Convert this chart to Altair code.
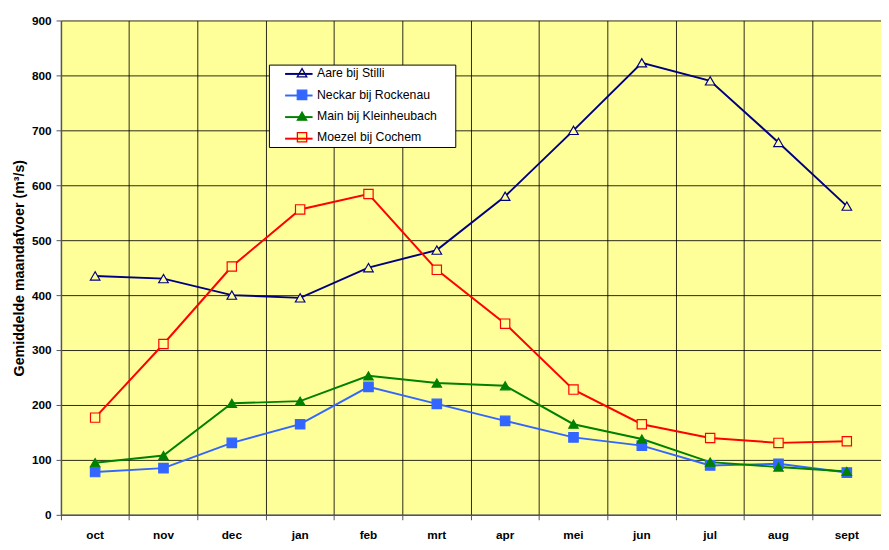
import altair as alt
import pandas as pd

months = ["oct", "nov", "dec", "jan", "feb", "mrt", "apr", "mei", "jun", "jul", "aug", "sept"]
series_names = ["Aare bij Stilli", "Neckar bij Rockenau", "Main bij Kleinheubach", "Moezel bij Cochem"]
aare = [435, 430, 400, 395, 450, 482, 580, 700, 823, 790, 678, 562]
neckar = [78, 85, 131, 165, 233, 202, 171, 141, 126, 90, 93, 77]
main_ = [95, 108, 203, 207, 253, 240, 235, 165, 138, 96, 87, 79]
moezel = [177, 311, 452, 556, 584, 446, 348, 228, 165, 140, 131, 134]

colors = ["#000080", "#3366FF", "#008000", "#FF0000"]
fills = ["#FFFF99", "#3366FF", "#008000", "#FFFF99"]
shapes = ["triangle-up", "square", "triangle-up", "square"]
sizes = [95, 90, 105, 105]

rows = []
for name, vals in zip(series_names, [aare, neckar, main_, moezel]):
    for m, v in zip(months, vals):
        rows.append({"month": m, "value": v, "series": name, "marker": name})
df = pd.DataFrame(rows)

W, H = 836, 504

tri = "M0,-0.9L0.78,0.4L-0.78,0.4Z"
sq = "M-0.7,-0.7L0.7,-0.7L0.7,0.7L-0.7,0.7Z"
legend_paths = [tri, sq, tri, sq]
legend_fills = ["white", "#3366FF", "#008000", "white"]


def expr(values):
    s = "'" + values[-1] + "'"
    for n, v in reversed(list(zip(series_names[:-1], values[:-1]))):
        s = "datum.value === '" + n + "' ? '" + v + "' : (" + s + ")"
    return s


x_enc = alt.X(
    "month:N",
    sort=months,
    scale=alt.Scale(type="band", paddingInner=0, paddingOuter=0),
    axis=alt.Axis(title=None, bandPosition=0, labelAngle=0,
                  grid=True, tickSize=5, labelPadding=10),
)
y_enc = alt.Y(
    "value:Q",
    scale=alt.Scale(domain=[0, 900], nice=False),
    axis=alt.Axis(values=list(range(0, 1000, 100)), title="Gemiddelde maandafvoer (m³/s)",
                  tickSize=5, labelPadding=5, titlePadding=5, grid=True),
)

# legend with frame, labels and markers
lines = alt.Chart(df).mark_line(strokeWidth=2).encode(
    x=x_enc,
    y=y_enc,
    color=alt.Color(
        "series:N",
        scale=alt.Scale(domain=series_names, range=colors),
        legend=alt.Legend(
            title="xx",
            titleOrient="right",
            titleFontSize=12,
            titleColor="rgba(0,0,0,0)",
            titlePadding=3,
            orient="none",
            legendX=212,
            legendY=45,
            fillColor="white",
            strokeColor="black",
            padding=2,
            labelFont="Liberation Sans",
            labelFontSize=12.5,
            labelColor="black",
            symbolSize=144,
            symbolStrokeWidth=1.3,
            symbolOpacity=1,
            rowPadding=6.6,
            symbolOffset=25.5,
            labelOffset=9,
            symbolType=alt.ExprRef(expr=expr(legend_paths)),
            symbolFillColor=alt.ExprRef(expr=expr(legend_fills)),
        ),
    ),
)

# second legend drawn on top: the line segments of the legend symbols
points = alt.Chart(df).mark_point(filled=False, opacity=1, strokeWidth=1.2).encode(
    x=x_enc,
    y=y_enc,
    stroke=alt.Stroke(
        "marker:N",
        sort=series_names,
        scale=alt.Scale(range=colors),
        legend=alt.Legend(
            title=None,
            orient="none",
            legendX=212,
            legendY=39.5,
            padding=0,
            labelFont="Liberation Sans",
            labelFontSize=12.5,
            labelColor="rgba(0,0,0,0)",
            symbolType="stroke",
            symbolSize=784,
            symbolStrokeWidth=2,
            symbolOpacity=1,
            rowPadding=-10.5,
            symbolOffset=15.5,
            labelOffset=9,
        ),
    ),
    fill=alt.Fill("marker:N", scale=alt.Scale(domain=series_names, range=fills), legend=None),
    shape=alt.Shape("marker:N", scale=alt.Scale(domain=series_names, range=shapes), legend=None),
    size=alt.Size("marker:N", scale=alt.Scale(domain=series_names, range=sizes), legend=None),
)

chart = alt.layer(lines, points).properties(
    width=W,
    height=H,
    autosize=alt.AutoSizeParams(type="none"),
    padding={"left": 54, "top": 7.5, "right": 0, "bottom": 24},
    background="white",
).configure_view(
    fill="#FFFF99", stroke=None
).configure_axis(
    labelFont="Liberation Sans",
    labelFontSize=12,
    labelFontWeight="bold",
    labelColor="black",
    titleFont="Liberation Sans",
    titleFontSize=14.5,
    titleFontWeight="bold",
    titleColor="black",
    gridColor="#000000",
    gridOpacity=0.85,
    gridWidth=1,
    domainColor="#555555",
    domainWidth=1.5,
    tickColor="#555555",
    tickWidth=1,
)

chart.save("out.html", embed_options={"renderer": "svg", "actions": False})
